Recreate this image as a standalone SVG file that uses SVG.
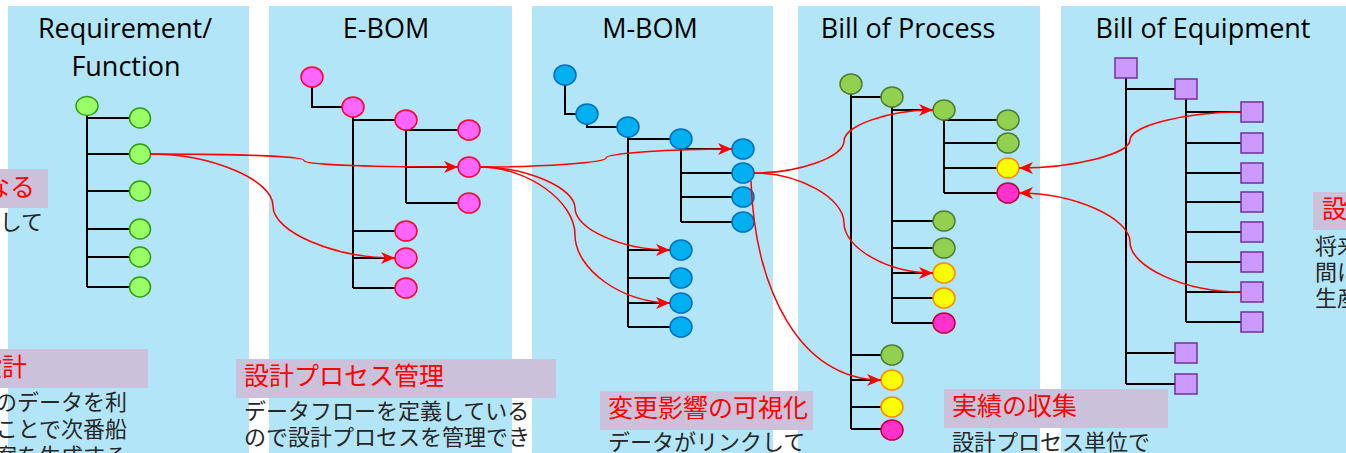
<svg xmlns="http://www.w3.org/2000/svg" width="1346" height="453" viewBox="0 0 1346 453">
<defs>
<style>
.panel{fill:#b2e5f7}
.title{font-family:"Open Sans","Liberation Sans",sans-serif;font-size:27px;fill:#000;text-anchor:middle}
.tree{fill:none;stroke:#000;stroke-width:2}
.red{fill:none;stroke:#ff0000;stroke-width:1.5;marker-end:url(#ah)}
.lg{fill:#99ff66;stroke:#2f9e10;stroke-width:1.5}
.mg{fill:#ff66ff;stroke:#ff0033;stroke-width:1.5}
.bl{fill:#00b0f0;stroke:#0070c0;stroke-width:1.5}
.gr{fill:#92d050;stroke:#507e32;stroke-width:1.5}
.ye{fill:#ffff00;stroke:#ff8c00;stroke-width:1.5}
.pk{fill:#ff33cc;stroke:#c00040;stroke-width:1.5}
.sq{fill:#cc99ff;stroke:#7030a0;stroke-width:1.5}
.lbox{fill:#ccc1da}
.lbl{font-family:"Noto Sans CJK JP",sans-serif;font-size:25px;fill:#ff0000}
.body{font-family:"Noto Sans CJK JP",sans-serif;font-size:22px;fill:#262626}
</style>
<marker id="ah" markerUnits="userSpaceOnUse" markerWidth="14" markerHeight="12" refX="14" refY="6" orient="auto">
<path d="M0,0 L14,6 L0,12 L4,6 z" fill="#ff0000"/>
</marker>
</defs>

<g id="panels">
<rect class="panel" x="8" y="6" width="241" height="447"/>
<rect class="panel" x="269" y="6" width="243" height="447"/>
<rect class="panel" x="532" y="6" width="241" height="447"/>
<rect class="panel" x="798" y="6" width="242" height="447"/>
<rect class="panel" x="1061" y="6" width="285" height="447"/>
</g>

<g id="titles">
<text class="title" x="125" y="38">Requirement/</text>
<text class="title" x="126" y="76">Function</text>
<text class="title" x="386" y="38">E-BOM</text>
<text class="title" x="650" y="38">M-BOM</text>
<text class="title" x="908" y="38">Bill of Process</text>
<text class="title" x="1203" y="38">Bill of Equipment</text>
</g>

<g id="tree-lines" class="tree">
<path d="M87,115 V287 M87,118 H129 M87,154 H129 M87,191 H129 M87,229 H129 M87,257 H129 M87,287 H129"/>
<path d="M312,87 V107 H342 M353,117 V288 M353,120 H395 M353,231 H395 M353,258 H395 M353,288 H395 M406,130 V203 M406,130 H458 M406,167 H458 M406,203 H458"/>
<path d="M565,85 V114 H576 M587,124 V127 H617 M628,137 V327 M628,139 H670 M628,250 H670 M628,278 H670 M628,303 H670 M628,327 H670 M681,149 V222 M681,149 H732 M681,173 H732 M681,197 H732 M681,222 H732"/>
<path d="M851,94 V429 M851,97 H881 M851,355 H881 M851,380 H881 M851,407 H881 M851,429 H881 M892,107 V323 M892,110 H933 M892,221 H933 M892,248 H933 M892,273 H933 M892,298 H933 M892,323 H933 M944,120 V193 M944,120 H997 M944,143 H997 M944,168 H997 M944,193 H997"/>
<path d="M1126,78 V384 M1126,89 H1175 M1126,353 H1175 M1126,384 H1175 M1186,99 V322 M1186,112 H1241 M1186,143 H1241 M1186,173 H1241 M1186,202 H1241 M1186,232 H1241 M1186,262 H1241 M1186,292 H1241 M1186,322 H1241"/>
</g>

<g id="req-nodes">
<g id="r0"><ellipse class="lg" cx="87" cy="106" rx="11" ry="9.5"/></g>
<g id="r1"><ellipse class="lg" cx="140" cy="118" rx="10.5" ry="10"/></g>
<g id="r2"><ellipse class="lg" cx="140" cy="154" rx="10.5" ry="10"/></g>
<g id="r3"><ellipse class="lg" cx="140" cy="191" rx="10.5" ry="10"/></g>
<g id="r4"><ellipse class="lg" cx="140" cy="229" rx="10.5" ry="10"/></g>
<g id="r5"><ellipse class="lg" cx="140" cy="257" rx="10.5" ry="10"/></g>
<g id="r6"><ellipse class="lg" cx="140" cy="287" rx="10.5" ry="10"/></g>
</g>

<g id="ebom-nodes">
<g id="e0"><ellipse class="mg" cx="312" cy="77" rx="11" ry="10"/></g>
<g id="e1"><ellipse class="mg" cx="353" cy="107" rx="11" ry="10"/></g>
<g id="e2"><ellipse class="mg" cx="406" cy="120" rx="11" ry="10"/></g>
<g id="e3"><ellipse class="mg" cx="469" cy="130" rx="11" ry="10"/></g>
<g id="e4"><ellipse class="mg" cx="469" cy="167" rx="11" ry="10"/></g>
<g id="e5"><ellipse class="mg" cx="469" cy="203" rx="11" ry="10"/></g>
<g id="e6"><ellipse class="mg" cx="406" cy="231" rx="11" ry="10"/></g>
<g id="e7"><ellipse class="mg" cx="406" cy="258" rx="11" ry="10"/></g>
<g id="e8"><ellipse class="mg" cx="406" cy="288" rx="11" ry="10"/></g>
</g>

<g id="mbom-nodes">
<g id="m0"><ellipse class="bl" cx="565" cy="75" rx="11" ry="10"/></g>
<g id="m1"><ellipse class="bl" cx="587" cy="114" rx="11" ry="10"/></g>
<g id="m2"><ellipse class="bl" cx="628" cy="127" rx="11" ry="10"/></g>
<g id="m3"><ellipse class="bl" cx="681" cy="139" rx="11" ry="10"/></g>
<g id="m4"><ellipse class="bl" cx="743" cy="149" rx="11" ry="10"/></g>
<g id="m5"><ellipse class="bl" cx="743" cy="173" rx="11" ry="10"/></g>
<g id="m6"><ellipse class="bl" cx="743" cy="197" rx="11" ry="10"/></g>
<g id="m7"><ellipse class="bl" cx="743" cy="222" rx="11" ry="10"/></g>
<g id="m8"><ellipse class="bl" cx="681" cy="250" rx="11" ry="10"/></g>
<g id="m9"><ellipse class="bl" cx="681" cy="278" rx="11" ry="10"/></g>
<g id="m10"><ellipse class="bl" cx="681" cy="303" rx="11" ry="10"/></g>
<g id="m11"><ellipse class="bl" cx="681" cy="327" rx="11" ry="10"/></g>
</g>

<g id="bop-nodes">
<g id="p0"><ellipse class="gr" cx="851" cy="84" rx="11" ry="10"/></g>
<g id="p1"><ellipse class="gr" cx="892" cy="97" rx="11" ry="10"/></g>
<g id="p2"><ellipse class="gr" cx="944" cy="110" rx="11" ry="10"/></g>
<g id="p3"><ellipse class="gr" cx="1008" cy="120" rx="11" ry="10"/></g>
<g id="p4"><ellipse class="gr" cx="1008" cy="143" rx="11" ry="10"/></g>
<g id="p5"><ellipse class="ye" cx="1008" cy="168" rx="11" ry="10"/></g>
<g id="p6"><ellipse class="pk" cx="1008" cy="193" rx="11" ry="10"/></g>
<g id="p7"><ellipse class="gr" cx="944" cy="221" rx="11" ry="10"/></g>
<g id="p8"><ellipse class="gr" cx="944" cy="248" rx="11" ry="10"/></g>
<g id="p9"><ellipse class="ye" cx="944" cy="273" rx="11" ry="10"/></g>
<g id="p10"><ellipse class="ye" cx="944" cy="298" rx="11" ry="10"/></g>
<g id="p11"><ellipse class="pk" cx="944" cy="323" rx="11" ry="10"/></g>
<g id="p12"><ellipse class="gr" cx="892" cy="355" rx="11" ry="10"/></g>
<g id="p13"><ellipse class="ye" cx="892" cy="380" rx="11" ry="10"/></g>
<g id="p14"><ellipse class="ye" cx="892" cy="407" rx="11" ry="10"/></g>
<g id="p15"><ellipse class="pk" cx="892" cy="430" rx="11" ry="10"/></g>
</g>

<g id="boe-nodes">
<g id="q0"><rect class="sq" x="1115" y="58" width="22" height="20"/></g>
<g id="q1"><rect class="sq" x="1175" y="79" width="22" height="20"/></g>
<g id="q2"><rect class="sq" x="1241" y="102" width="22" height="20"/></g>
<g id="q3"><rect class="sq" x="1241" y="133" width="22" height="20"/></g>
<g id="q4"><rect class="sq" x="1241" y="163" width="22" height="20"/></g>
<g id="q5"><rect class="sq" x="1241" y="192" width="22" height="20"/></g>
<g id="q6"><rect class="sq" x="1241" y="222" width="22" height="20"/></g>
<g id="q7"><rect class="sq" x="1241" y="252" width="22" height="20"/></g>
<g id="q8"><rect class="sq" x="1241" y="282" width="22" height="20"/></g>
<g id="q9"><rect class="sq" x="1241" y="312" width="22" height="20"/></g>
<g id="q10"><rect class="sq" x="1175" y="343" width="22" height="20"/></g>
<g id="q11"><rect class="sq" x="1175" y="374" width="22" height="20"/></g>
</g>

<g id="connectors">
<path class="red" d="M150,154 C227,154 304,156 304,160.5 C304,165 381,167 458,167"/>
<path class="red" d="M150,154 C212,154 273,180 273,206 C273,232 334,258 395,258"/>
<path class="red" d="M480,167 C543,167 606,162.5 606,158 C606,153.5 669,149 732,149"/>
<path class="red" d="M480,167 C527,167 575,188 575,208 C575,229 622,250 670,250"/>
<path class="red" d="M480,167 C527,167 575,201 575,235 C575,269 622,303 670,303"/>
<path class="red" d="M754,173 C799,173 844,157 844,141 C844,126 888,110 933,110"/>
<path class="red" d="M754,173 C799,173 844,198 844,223 C844,248 888,273 933,273"/>
<path class="red" d="M751,181 C755,290 800,380 881,380"/>
<path class="red" d="M1241,112 C1185,112 1130,126 1130,140 C1130,154 1074,168 1019,168"/>
<path class="red" d="M1241,292 C1185,292 1130,267 1130,242 C1130,218 1074,193 1019,193"/>
</g>

<g id="label-1">
<rect class="lbox" x="0" y="169" width="48" height="39"/>
<text class="lbl" x="35" y="196" text-anchor="end">なる</text>
<text class="body" x="43" y="230" text-anchor="end">して</text>
</g>
<g id="label-2">
<rect class="lbox" x="0" y="349" width="148" height="39"/>
<text class="lbl" x="27" y="376" text-anchor="end">設計</text>
<text class="body" x="127" y="410" text-anchor="end">のデータを利</text>
<text class="body" x="127" y="437" text-anchor="end">ことで次番船</text>
<text class="body" x="127" y="464" text-anchor="end">案を生成する</text>
</g>
<g id="label-3">
<rect class="lbox" x="236" y="359" width="320" height="39"/>
<text class="lbl" x="244" y="385">設計プロセス管理</text>
<text class="body" x="244" y="419">データフローを定義している</text>
<text class="body" x="244" y="445">ので設計プロセスを管理でき</text>
</g>
<g id="label-4">
<rect class="lbox" x="600" y="391" width="213" height="39"/>
<text class="lbl" x="608" y="417">変更影響の可視化</text>
<text class="body" x="608" y="450">データがリンクして</text>
</g>
<g id="label-5">
<rect class="lbox" x="944" y="389" width="224" height="39"/>
<text class="lbl" x="952" y="415">実績の収集</text>
<text class="body" x="952" y="450">設計プロセス単位で</text>
</g>
<g id="label-6">
<rect class="lbox" x="1313" y="192" width="40" height="38"/>
<text class="lbl" x="1322" y="218">設</text>
<text class="body" x="1315" y="254">将来</text>
<text class="body" x="1315" y="280">間に</text>
<text class="body" x="1315" y="306">生産</text>
</g>
</svg>
